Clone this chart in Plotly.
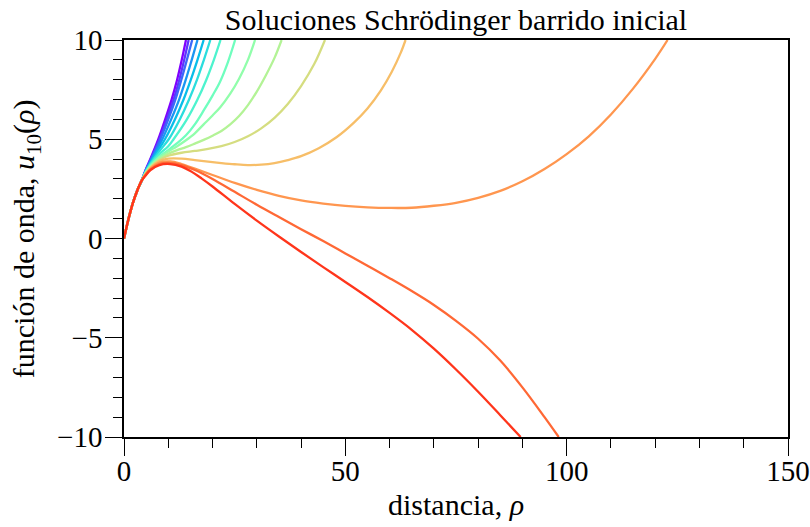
import plotly.graph_objects as go

# Shared start of every solution near the origin
trunk_rho = [0, 1, 2, 3, 4]
trunk_u = [0, 0.97, 1.78, 2.42, 2.92]

# Remaining (rho, u) samples of each solution of the sweep, in order of the sweep
curve_00 = [(5, 3.52), (6, 4.03), (7.75, 5), (9.3, 6), (10.75, 7), (12.0, 8), (13.05, 9), (14.0, 10)]
curve_01 = [(5, 3.5), (6, 3.98), (8.0, 5), (9.65, 6), (11.2, 7), (12.5, 8), (13.6, 9), (14.6, 10)]
curve_02 = [(5, 3.47), (6, 3.93), (8.2, 5), (10.0, 6), (11.6, 7), (12.95, 8), (14.2, 9), (15.4, 10)]
curve_03 = [(5, 3.45), (6, 3.88), (8.65, 5), (10.65, 6), (12.45, 7), (13.95, 8), (15.3, 9), (16.6, 10)]
curve_04 = [(5, 3.43), (6, 3.83), (8, 4.55), (9.25, 5), (11.5, 6), (13.45, 7), (15.1, 8), (16.6, 9), (18.0, 10)]
curve_05 = [(5, 3.41), (6, 3.78), (8, 4.4), (10.1, 5), (12.6, 6), (14.7, 7), (16.5, 8), (18.05, 9), (19.5, 10)]
curve_06 = [(5, 3.38), (6, 3.73), (8, 4.25), (10, 4.65), (11.2, 5), (14.2, 6), (16.6, 7), (18.6, 8),
            (20.3, 9), (21.8, 10)]
curve_07 = [(5, 3.36), (6, 3.68), (8, 4.12), (10, 4.45), (12, 4.8), (14, 5.2), (16, 5.75), (18, 6.45),
            (20, 7.2), (21.7, 7.9), (23.5, 8.9), (25.1, 10)]
curve_08 = [(5, 3.34), (6, 3.64), (8, 4.08), (10, 4.38), (12, 4.65), (14, 4.95), (16, 5.3), (18, 5.75),
            (20, 6.2), (21.7, 6.6), (24, 7.3), (26, 8.05), (28, 9.0), (29.6, 10)]
curve_09 = [(5, 3.32), (6, 3.6), (8, 4.0), (10, 4.27), (12, 4.45), (14, 4.6), (16, 4.78), (18, 4.97),
            (20, 5.18), (22, 5.42), (24, 5.75), (26, 6.17), (28, 6.72), (30, 7.4), (32, 8.2), (34, 9.1),
            (35.6, 10)]
curve_10 = [(5, 3.3), (6, 3.58), (8, 3.95), (10, 4.17), (13, 4.32), (16, 4.41), (19, 4.51), (22, 4.65),
            (25, 4.86), (28, 5.15), (31, 5.55), (34, 6.08), (37, 6.78), (40, 7.68), (43, 8.8), (45.4, 10)]
curve_11 = [(5, 3.28), (6, 3.56), (8, 3.9), (10, 4.02), (13, 4.02), (16, 3.95), (19, 3.87), (22, 3.8),
            (25, 3.74), (28, 3.7), (31, 3.72), (34, 3.8), (37, 3.95), (40, 4.15), (44, 4.55), (48, 5.1),
            (52, 5.85), (55, 6.55), (58, 7.45), (60.5, 8.4), (62.5, 9.35), (63.6, 10)]
curve_12 = [(5, 3.26), (6, 3.52), (8, 3.82), (10.5, 3.88), (13, 3.75), (16, 3.52), (20, 3.2), (25, 2.8),
            (30, 2.45), (35, 2.15), (40, 1.92), (45, 1.76), (50, 1.64), (55, 1.57), (60, 1.54), (65, 1.55),
            (70, 1.65), (75, 1.8), (80, 2.05), (85, 2.4), (90, 2.88), (95, 3.5), (100, 4.25), (105, 5.15),
            (110, 6.25), (115, 7.55), (120, 9.05), (122.8, 10)]
curve_13 = [(5, 3.24), (6, 3.48), (8, 3.75), (10.5, 3.8), (13, 3.7), (16, 3.45), (20, 3.0), (25, 2.35),
            (30, 1.7), (35, 1.08), (40, 0.47), (45, -0.13), (50, -0.75), (55, -1.37), (60, -2.0),
            (65, -2.65), (70, -3.35), (75, -4.15), (80, -5.05), (85, -6.15), (90, -7.5), (95, -9.0),
            (98.2, -10)]
curve_14 = [(5, 3.2), (6, 3.45), (8, 3.7), (10.4, 3.75), (13, 3.62), (15, 3.4), (17.5, 3.03), (20, 2.62),
            (25, 1.74), (30, 0.9), (35, 0.1), (40, -0.68), (45, -1.44), (50, -2.19), (55, -2.95),
            (60, -3.75), (65, -4.6), (70, -5.55), (75, -6.6), (80, -7.72), (85, -8.9), (89.6, -10)]

curves = [curve_00, curve_01, curve_02, curve_03, curve_04, curve_05, curve_06, curve_07,
          curve_08, curve_09, curve_10, curve_11, curve_12, curve_13, curve_14]

# rainbow colour ramp across the sweep
colors = ["#8000ff", "#5e35fe", "#3c68f9", "#1a96f3", "#09bee9", "#2bdddd", "#4df3ce", "#6ffebe",
          "#91feab", "#b3f396", "#d5dd80", "#f7be68", "#ff964f", "#ff6835", "#ff351b"]

x_ticks = [0, 50, 100, 150]
y_ticks = [-10, -5, 0, 5, 10]

FONT = "Liberation Serif"

fig = go.Figure()
for pts, col in zip(curves, colors):
    rho = trunk_rho + [p[0] for p in pts]
    u = trunk_u + [p[1] for p in pts]
    fig.add_trace(go.Scatter(
        x=rho, y=u, mode="lines",
        line=dict(color=col, width=2.3, shape="spline", smoothing=1.0),
        showlegend=False, hoverinfo="skip",
    ))

axis_common = dict(
    showgrid=False, zeroline=False, automargin=False,
    showline=True, linecolor="black", linewidth=1.5, mirror=True,
    ticks="outside", ticklen=17, tickwidth=1.4, tickcolor="black",
    tickfont=dict(family=FONT, size=29, color="black"),
)

fig.update_xaxes(
    range=[0, 150], tickvals=x_ticks, ticklabelstandoff=-10,
    minor=dict(dtick=10, ticks="outside", ticklen=9, tickwidth=1.2, tickcolor="black"),
    **axis_common,
)
fig.update_yaxes(
    range=[-10, 10], tickvals=y_ticks, ticklabelstandoff=-3,
    minor=dict(dtick=1, ticks="outside", ticklen=9, tickwidth=1.2, tickcolor="black"),
    **axis_common,
)

fig.update_layout(
    width=810, height=527,
    margin=dict(l=124, r=22, t=40, b=90),
    plot_bgcolor="white", paper_bgcolor="white",
    title=dict(text="Soluciones Schrödinger barrido inicial",
               x=0.5, xref="paper", xanchor="center",
               y=(527 - 19) / 527, yref="container", yanchor="middle",
               font=dict(family=FONT, size=30, color="black")),
    annotations=[
        dict(text="distancia, <i>ρ</i>", xref="paper", yref="paper",
             x=0.5, y=-0.171, xanchor="center", yanchor="middle", showarrow=False,
             font=dict(family=FONT, size=30, color="black")),
        dict(text="función de onda, <i>u</i><sub>10</sub>(<i>ρ</i>)", xref="paper", yref="paper",
             x=-0.148, y=0.5, xanchor="center", yanchor="middle", showarrow=False,
             textangle=-90, font=dict(family=FONT, size=30, color="black")),
    ],
)

fig.write_html("out.html")
